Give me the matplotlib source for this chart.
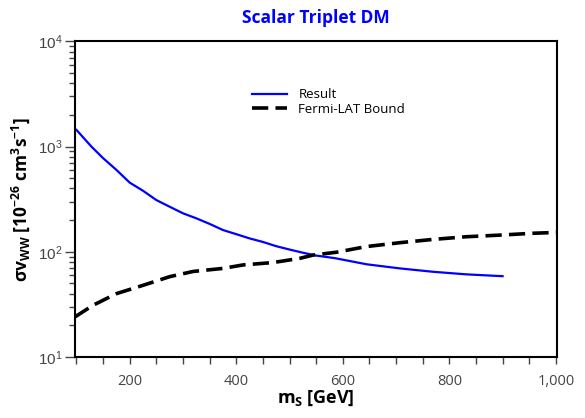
import numpy as np
import matplotlib
matplotlib.use("Agg")
import matplotlib.pyplot as plt
from matplotlib.ticker import FuncFormatter, LogLocator, MultipleLocator

plt.rcParams['font.family'] = ['Open Sans', 'DejaVu Sans']
plt.rcParams['mathtext.default'] = 'regular'

# Result curve (blue)
m_result = [100, 128, 150, 175, 200, 225, 250, 275, 300, 325, 350, 375, 400,
            425, 450, 475, 500, 525, 550, 585, 645, 707, 770, 832, 900]
sv_result = [1440, 1000, 776, 600, 454, 380, 310, 268, 232, 208, 184, 161, 147,
             134, 124, 113, 105, 98, 92, 87, 76, 69.5, 64.5, 61, 58.6]

# Fermi-LAT bound (black dashed)
m_fermi = [97, 131, 175, 225, 275, 319, 375, 413, 469, 519, 544, 588,
           644, 707, 769, 832, 895, 957, 1007]
sv_fermi = [24, 31, 40, 48, 58, 65, 69.5, 75, 79, 86.5, 93, 99,
            112, 122, 131, 139, 144, 150, 153]

fig = plt.figure(figsize=(5.85, 4.18), dpi=100)
ax = fig.add_axes([0.128, 0.146, 0.824, 0.755])

ax.plot(m_result, sv_result, color='#0000ff', lw=1.6, label='Result')
ax.plot(m_fermi, sv_fermi, color='black', lw=2.6, dashes=(4.5, 2),
        label='Fermi-LAT Bound')

ax.set_yscale('log')
ax.set_xlim(97, 1002)
ax.set_ylim(10, 1e4)

for s in ax.spines.values():
    s.set_linewidth(1.5)

ax.yaxis.set_major_locator(LogLocator(base=10))
ax.yaxis.set_minor_locator(LogLocator(base=10, subs=np.arange(2, 10)))
ax.yaxis.set_minor_formatter(FuncFormatter(lambda v, p: ''))
ax.yaxis.set_major_formatter(FuncFormatter(lambda v, p: r'$10^{%d}$' % round(np.log10(v))))
ax.xaxis.set_major_locator(MultipleLocator(200))
ax.xaxis.set_minor_locator(MultipleLocator(50))
ax.xaxis.set_major_formatter(FuncFormatter(lambda v, p: f'{v:,.0f}'))

ax.tick_params(axis='y', which='major', length=7, width=1, colors='#444444',
               labelsize=11, pad=2)
ax.tick_params(axis='y', which='minor', length=4, width=1, colors='#444444')
ax.tick_params(axis='x', which='both', length=5, width=1, colors='#444444',
               labelsize=10.5, pad=7)
for lab in ax.get_yticklabels():
    lab.set_family('Liberation Sans')

ax.set_xlabel('m$_{S}$ [GeV]', fontsize=13, fontweight='bold', labelpad=0)
ax.set_ylabel(r'σv$_{WW}$ [10$^{-26}$ cm$^{3}$s$^{-1}$]', fontsize=12.5,
              fontweight='bold', labelpad=4)
ax.set_title('Scalar Triplet DM', color='#0000ff', fontsize=12.5,
             fontweight='bold', pad=13)

ax.legend(loc='upper left', bbox_to_anchor=(0.411, 0.817),
          bbox_transform=fig.transFigure, frameon=False, fontsize=9.5,
          handlelength=2.6, handletextpad=0.9, labelspacing=0.1)

fig.savefig('out.png', dpi=100)
